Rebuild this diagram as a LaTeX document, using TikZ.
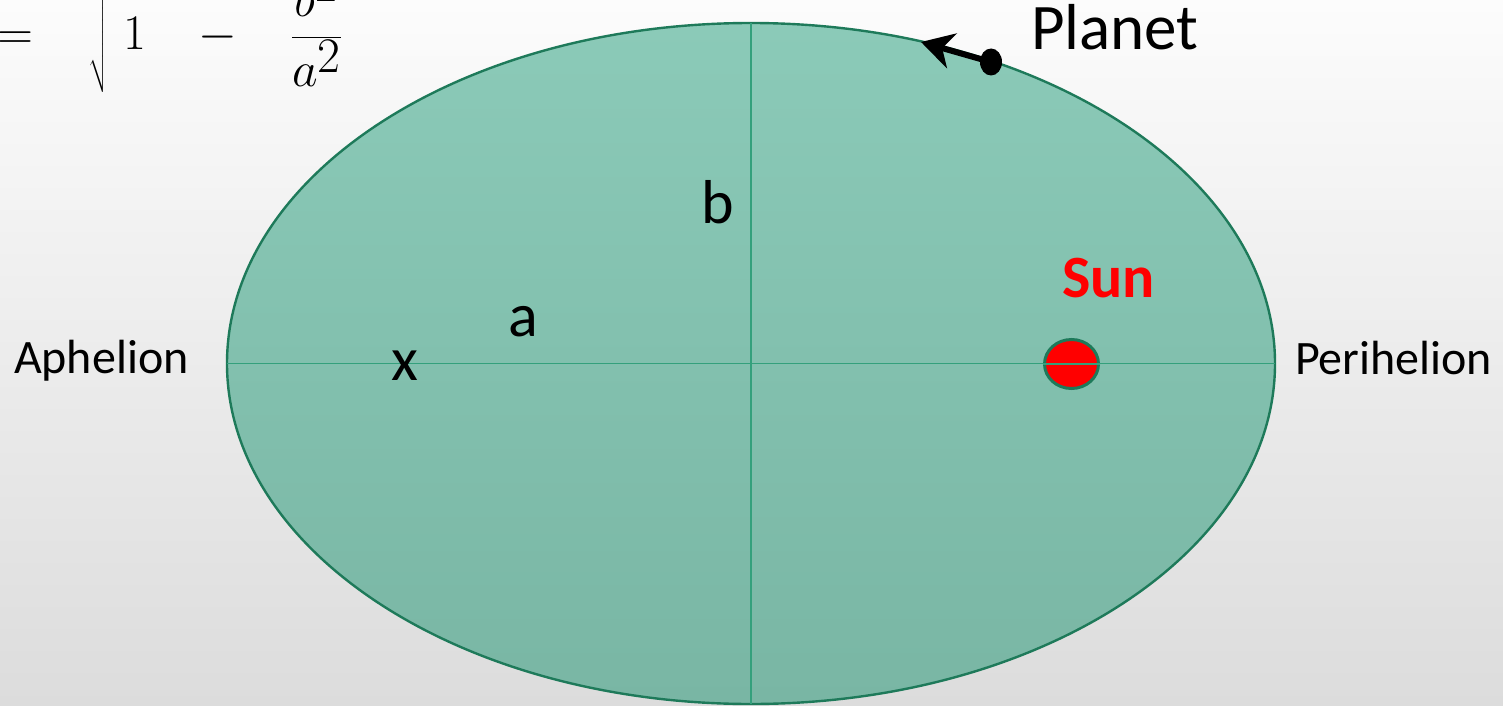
\documentclass[tikz,border=0pt]{standalone}
\usepackage{fontspec}
\setmainfont{Carlito}
\usetikzlibrary{shapes.geometric,arrows.meta}
\definecolor{orbitfilltop}{HTML}{8BCAB8}
\definecolor{orbitfillbot}{HTML}{79B6A4}
\definecolor{orbitline}{HTML}{1E7A5A}
\definecolor{axisline}{HTML}{34A07C}
\definecolor{bgtop}{HTML}{FCFCFC}
\definecolor{bgbot}{HTML}{DCDCDC}
\definecolor{sunred}{HTML}{FF0000}
\tikzset{
  lbl/.style={anchor=base west, inner sep=0pt, outer sep=0pt, text=black},
  sidelbl/.style={lbl, font=\fontsize{24}{28}\selectfont},
  axlbl/.style={lbl, font=\fontsize{31}{36}\selectfont},
  axisln/.style={draw=axisline, line width=0.75pt},
}
\begin{document}
\begin{tikzpicture}[x=0.5pt, y=-0.5pt]
\useasboundingbox (0,0) rectangle (1503,706);
\shade[top color=bgtop, bottom color=bgbot] (0,0) rectangle (1503,706);
% orbit
\node[ellipse, draw=orbitline, line width=1.2pt, top color=orbitfilltop, bottom color=orbitfillbot,
      minimum width=524pt, minimum height=340.5pt, inner sep=0pt, outer sep=0pt] (orbit) at (751,363.5) {};
\draw[axisln] (orbit.west) -- (orbit.east);
\draw[axisln] (orbit.north) -- (orbit.south);
% sun
\node[ellipse, draw=orbitline, line width=1.5pt, fill=sunred, minimum width=27pt, minimum height=24.5pt, inner sep=0pt] (sun) at (1071.5,364) {};
\draw[axisln] (sun.west) -- (sun.east);
\node[lbl, font=\fontsize{30}{36}\selectfont\bfseries, text=sunred] (sunlbl) at (1062,297) {Sun};
% planet
\coordinate (tip) at (921,42);
\node[ellipse, fill=black, minimum width=11pt, minimum height=13.5pt, inner sep=0pt] (planet) at (991,62) {};
\draw[line width=3pt, -{Stealth[length=16pt,width=18pt,inset=5pt]}] (planet.center) -- (tip);
\node[lbl, font=\fontsize{32.5}{38}\selectfont] (planetlbl) at (1031,50) {Planet};
% labels
\node[sidelbl] (aph) at (14,373) {Aphelion};
\node[sidelbl] (peri) at (1295,374) {Perihelion};
\node[axlbl] (albl) at (508,336) {a};
\node[axlbl] (blbl) at (701,223) {b};
\node[axlbl] (xlbl) at (391,380) {x};
% formula
\node[lbl, font=\fontsize{33}{40}\selectfont] (formula) at (-3,50)
  {$\displaystyle =\;\;\;\sqrt{\;1\;\;\;-\;\;\;\frac{b^2}{a^2}\rule[-20pt]{0pt}{1pt}}$};
\end{tikzpicture}
\end{document}
